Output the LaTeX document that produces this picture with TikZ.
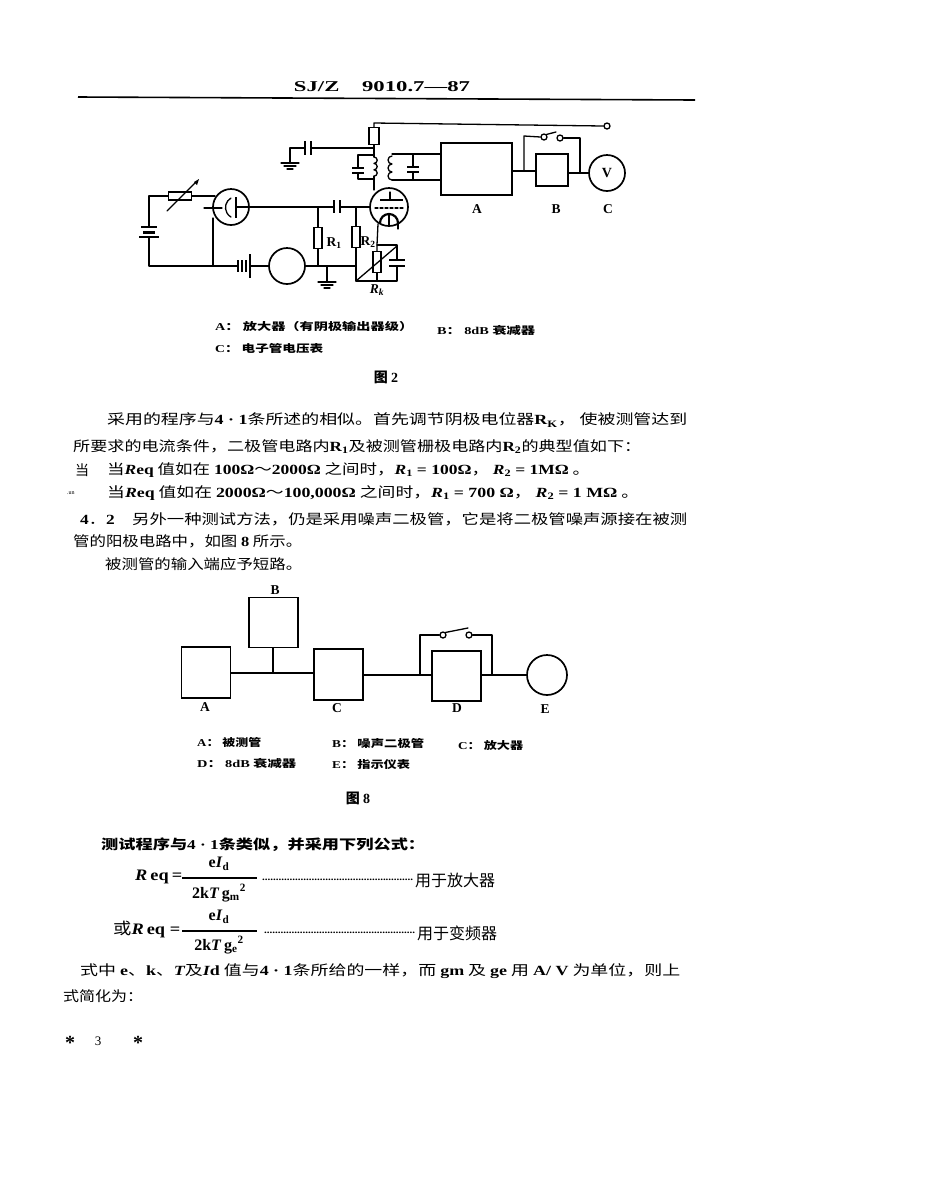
\documentclass[tikz,border=0pt]{standalone}
\usepackage{graphicx}
\usepackage{fontspec}
\setmainfont{Liberation Serif}
\newfontfamily\cjk{Noto Sans CJK SC}
\newfontfamily\latn{Liberation Serif}
\newcommand{\la}[1]{{\latn\bfseries #1}} % latin inside chinese line
\newcommand{\fitw}[2]{\resizebox{#1pt}{\height}{#2}} % line of given width
\newcommand{\groundat}[1]{% ground symbol under a coordinate
  \draw[wire] ($(#1)+(-9,0)$) -- ($(#1)+(9,0)$);
  \draw[wire] ($(#1)+(-6,3)$) -- ($(#1)+(6,3)$);
  \draw[wire] ($(#1)+(-3,6)$) -- ($(#1)+(3,6)$);}
\usetikzlibrary{calc}
\begin{document}
\begin{tikzpicture}[x=1pt,y=-1pt]
\tikzstyle{wire} = [line width=1.3pt, line cap=round, line join=round] % wires
\tikzstyle{plate} = [line width=2.2pt] % capacitor and battery plates
\tikzstyle{box} = [draw, line width=1.7pt, inner sep=0pt] % blocks
\tikzstyle{bigbox} = [draw, line width=1.4pt, inner sep=0pt, minimum width=49pt, minimum height=50pt] % blocks of fig 3
\tikzstyle{res} = [draw, line width=1.5pt, inner sep=0pt, fill=white] % resistors
\tikzstyle{ring} = [draw, circle, line width=1.7pt, inner sep=0pt] % round meters and tubes
\tikzstyle{pin} = [draw, circle, line width=1.3pt, inner sep=0pt, minimum size=6pt, fill=white] % switch contacts
\tikzstyle{letter} = [inner sep=0pt, font=\latn\bfseries\fontsize{13.5}{13.5}\selectfont] % letters of blocks
\tikzstyle{legend} = [anchor=west, inner sep=0pt, font=\cjk\bfseries\fontsize{10.5}{12}\selectfont] % legends
\tikzstyle{bodyline} = [anchor=west, inner sep=0pt, font=\cjk\fontsize{14}{16}\selectfont] % text lines
\tikzstyle{mathline} = [bodyline, font=\latn\bfseries\fontsize{16}{18}\selectfont] % formula parts
\useasboundingbox (0,0) rectangle (950,1195);
\fill[white] (0,0) rectangle (950,1195);
% header
\node[inner sep=0pt, font=\latn\bfseries\fontsize{15}{15}\selectfont] (head) at (382,87) {\fitw{176}{SJ/Z\quad 9010.7—87}};
\coordinate (ruleL) at (78,97);
\coordinate (ruleR) at (695,100);
\draw[line width=1.6pt] (ruleL) -- (ruleR);
% fig 2, left loop
\coordinate (batL) at (149,196);
\coordinate (batLb) at (149,266);
\coordinate (batR) at (237,266);
\coordinate (batRb) at (250,266);
\node[res, minimum width=23pt, minimum height=8pt] (rv) at (180,196) {};
\node[ring, minimum size=36pt] (diode) at (231,207) {};
\coordinate (dk) at (213,218);
\coordinate (dl) at (213,266);
\coordinate (da) at (215,196);
\draw[wire] (149,227) -- (batL) -- (rv.west);
\draw[wire] (rv.east) -- (da);
\draw[wire] (149,237) -- (batLb) -- (dl) -- (batR);
\draw[wire] (dk) -- (dl);
\draw[plate] (141,227) -- (157,227);
\draw[line width=3pt] (143,232) -- (155,232);
\draw[plate] (139,237) -- (159,237);
\draw[wire] (167,211) -- (196,182);
\fill (199,179) -- (194,182) -- (197,185) -- cycle;
\draw[wire] (204,208) -- (222,208);
\draw[wire] (231,198) arc[start angle=240, end angle=120, radius=11];
\draw[line width=2.2pt] (236,197) -- (236,218);
\draw[wire] (236,207) -- (249,207);
% battery and meter
\foreach \xb/\hb in {238/6,242/6,246/6,250/12} \draw[line width=1.5pt] (\xb,266-\hb) -- (\xb,266+\hb);
\node[ring, minimum size=36pt] (mG) at (287,266) {};
\coordinate (jr1b) at (318,266);
\coordinate (jg) at (327,266);
\coordinate (jr2b) at (356,266);
\coordinate (g1) at (327,282);
\draw[wire] (batRb) -- (mG.west);
\draw[wire] (mG.east) -- (jr2b);
\draw[wire] (jg) -- (g1);
\groundat{g1}
% grid line with R1 and R2
\node[res, minimum width=8pt, minimum height=21pt] (r1) at (318,238) {};
\node[res, minimum width=8pt, minimum height=21pt] (r2) at (356,237) {};
\node[letter] (labR1) at (334,243) {R\textsubscript{1}};
\node[letter] (labR2) at (368,242) {R\textsubscript{2}};
\coordinate (jr1) at (318,207);
\coordinate (jr2) at (356,207);
\coordinate (rkL) at (356,281);
\coordinate (rkR) at (397,281);
\node[ring, minimum size=38pt] (tube) at (389,207) {};
\draw[wire] (diode.east) -- (334,207);
\draw[wire] (340,207) -- (tube.west);
\draw[plate] (334,200) -- (334,213);
\draw[plate] (340,200) -- (340,213);
\draw[wire] (jr1) -- (r1.north);
\draw[wire] (r1.south) -- (jr1b);
\draw[wire] (jr2) -- (r2.north);
\draw[wire] (r2.south) -- (rkL);
% tube inside
\draw[line width=2.2pt] (380,200) -- (403,200);
\draw[wire] (390,192) -- (390,200);
\draw[wire, dash pattern=on 3pt off 2pt] (375,208) -- (404,208);
\draw[line width=2.2pt] (380,223) arc[start angle=180, end angle=360, radius=9];
\draw[wire] (398,223) -- (398,229);
\draw[wire] (389,214) -- (389,226);
% cathode with Rk
\node[res, minimum width=8pt, minimum height=21pt] (rk) at (377,262) {};
\coordinate (kt) at (377,245);
\coordinate (ktR) at (397,245);
\node[letter, font=\latn\bfseries\itshape\fontsize{13.5}{13.5}\selectfont] (labRk) at (377,290) {R\textsubscript{k}};
\draw[wire] (378,224) -- (kt) -- (rk.north);
\draw[wire] (kt) -- (ktR) -- (397,260);
\draw[wire] (397,266) -- (rkR) -- (rkL);
\draw[wire] (rk.south) -- (377,281);
\draw[plate] (389,260) -- (405,260);
\draw[plate] (389,266) -- (405,266);
\draw[wire] (rkL) -- (397,246);
% anode side
\node[res, minimum width=10pt, minimum height=17pt] (ra) at (374,136) {};
\coordinate (topL) at (374,123);
\coordinate (jc) at (374,148);
\coordinate (gc) at (290,148);
\coordinate (g2) at (290,163);
\node[pin] (term) at (607,126) {};
\draw[wire] (term.west) -- (topL) -- (ra.north);
\draw[wire] (ra.south) -- (374,157);
\draw[wire] (jc) -- (311,148);
\draw[wire] (305,148) -- (gc) -- (g2);
\draw[plate] (305,141) -- (305,155);
\draw[plate] (311,141) -- (311,155);
\groundat{g2}
% coils
\draw[wire] (374,157) arc[start angle=-90, end angle=90, radius=3.2] arc[start angle=-90, end angle=90, radius=3.2] arc[start angle=-90, end angle=90, radius=3.2];
\draw[wire] (392,156) arc[start angle=-90, end angle=-270, radius=4] arc[start angle=-90, end angle=-270, radius=4] arc[start angle=-90, end angle=-270, radius=4];
\draw[wire] (374,176) -- (374,190);
\draw[wire] (374,155) -- (358,155) -- (358,168);
\draw[wire] (358,173) -- (358,179) -- (374,179);
\draw[plate] (352,168) -- (364,168);
\draw[plate] (352,173) -- (364,173);
% block A, B and V
\node[box, minimum width=71pt, minimum height=52pt] (blkA) at (476.5,169) {};
\node[box, line width=2.2pt, minimum width=32pt, minimum height=32pt] (blkB) at (552,170) {};
\node[ring, minimum size=36pt, font=\latn\bfseries\fontsize{14}{14}\selectfont] (mV) at (607,173) {V};
\coordinate (sA) at (392,154);
\coordinate (sB) at (392,180);
\draw[wire] (sA) -- (blkA.west |- sA);
\draw[wire] (sB) -- (blkA.west |- sB);
\draw[wire] (413,154) -- (413,167);
\draw[wire] (413,172) -- (413,180);
\draw[plate] (407,167) -- (419,167);
\draw[plate] (407,172) -- (419,172);
\coordinate (bpL) at (524,171);
\coordinate (bpR) at (580,173);
\node[pin] (sw1a) at (544,137) {};
\node[pin] (sw1b) at (560,138) {};
\draw[wire] (blkA.east |- bpL) -- (blkB.west |- bpL);
\draw[wire] (blkB.east |- bpR) -- (mV.west);
\draw[wire] (bpL) -- (524,136) -- (sw1a.west);
\draw[wire] (sw1b.east) -- (580,138) -- (bpR);
\draw[wire] (sw1a.north east) -- (556,132);
\node[letter] (labA) at (477,209) {A};
\node[letter] (labB) at (556,209) {B};
\node[letter] (labC) at (608,209) {C};
% legend of fig 2
\node[legend] (leg1) at (215,327) {\fitw{198}{\la{A}： 放大器（有阴极输出器级）}};
\node[legend] (leg2) at (437,330) {\fitw{98}{\la{B}： \la{8dB} 衰减器}};
\node[legend] (leg3) at (215,348) {\fitw{108}{\la{C}： 电子管电压表}};
\node[legend, anchor=center, font=\cjk\bfseries\fontsize{14}{16}\selectfont] (cap2) at (386,377) {图 \la{2}};
% text
\node[bodyline] (line1) at (107,420) {\fitw{580}{采用的程序与\la{4 · 1}条所述的相似。首先调节阴极电位器\la{R\textsubscript{K}}， 使被测管达到}};
\node[bodyline] (line2) at (73,447) {\fitw{568}{所要求的电流条件，二极管电路内\la{R\textsubscript{1}}及被测管栅极电路内\la{R\textsubscript{2}}的典型值如下：}};
\node[bodyline] (line3a) at (75,470) {当};
\node[bodyline] (line3) at (107,470) {\fitw{483}{当\la{\itshape R}\la{eq} 值如在 \la{100Ω}～\la{2000Ω} 之间时，\la{\itshape R\textsubscript{\upshape 1}} \la{= 100Ω}， \la{\itshape R\textsubscript{\upshape 2}} \la{= 1MΩ} 。}};
\node[bodyline, font=\latn\fontsize{6}{6}\selectfont] (line4a) at (67,493) {.un};
\node[bodyline] (line4) at (107,493) {\fitw{532}{当\la{\itshape R}\la{eq} 值如在 \la{2000Ω}～\la{100,000Ω} 之间时，\la{\itshape R\textsubscript{\upshape 1}} \la{= 700 Ω}， \la{\itshape R\textsubscript{\upshape 2}} \la{= 1 MΩ} 。}};
\node[bodyline] (line5) at (80,519) {\fitw{607}{\la{4}．\la{2}\quad 另外一种测试方法，仍是采用噪声二极管，它是将二极管噪声源接在被测}};
\node[bodyline] (line6) at (73,541) {\fitw{229}{管的阳极电路中，如图 \la{8} 所示。}};
\node[bodyline] (line7) at (105,564) {\fitw{197}{被测管的输入端应予短路。}};
% fig 8
\node[bigbox, minimum height=51pt] (a) at (206,672.5) {};
\node[bigbox] (b) at (273.5,622.5) {};
\node[bigbox, minimum height=51pt] (c) at (338.5,674.5) {};
\node[bigbox] (d) at (456.5,676) {};
\node[ring, minimum size=40pt] (e) at (547,675) {};
\coordinate (jb) at (273,673);
\coordinate (bp1) at (420,675);
\coordinate (bp2) at (492,675);
\node[pin] (sw2a) at (443,635) {};
\node[pin] (sw2b) at (469,635) {};
\draw[wire] (a.east |- jb) -- (c.west |- jb);
\draw[wire] (b.south -| jb) -- (jb);
\draw[wire] (c.east |- bp1) -- (d.west |- bp1);
\draw[wire] (d.east |- bp2) -- (e.west);
\draw[wire] (bp1) -- (420,635) -- (sw2a.west);
\draw[wire] (sw2b.east) -- (492,635) -- (bp2);
\draw[wire] (sw2a.north east) -- (468,628);
\node[letter] (lab8A) at (205,707) {A};
\node[letter] (lab8B) at (275,590) {B};
\node[letter] (lab8C) at (337,708) {C};
\node[letter] (lab8D) at (457,708) {D};
\node[letter] (lab8E) at (545,709) {E};
\node[legend] (leg4) at (197,742) {\fitw{64}{\la{A}： 被测管}};
\node[legend] (leg5) at (332,743) {\fitw{92}{\la{B}： 噪声二极管}};
\node[legend] (leg6) at (458,745) {\fitw{65}{\la{C}： 放大器}};
\node[legend] (leg7) at (197,763) {\fitw{99}{\la{D}： \la{8dB} 衰减器}};
\node[legend] (leg8) at (332,765) {\fitw{78}{\la{E}： 指示仪表}};
\node[legend, anchor=center, font=\cjk\bfseries\fontsize{14}{16}\selectfont] (cap8) at (358,798) {图 \la{8}};
% formulas
\node[bodyline, font=\cjk\bfseries\fontsize{13.5}{16}\selectfont] (line8) at (101,845) {\fitw{324}{测试程序与\la{4 · 1}条类似，并采用下列公式：}};
\node[mathline] (f1) at (135,877) {\fitw{47}{\itshape R\upshape\,eq\,=}};
\coordinate (f1a) at (182,878);
\coordinate (f1b) at (257,878);
\draw[line width=1.4pt] (f1a) -- (f1b);
\node[mathline, anchor=center] (f1n) at (219,864) {e\textit{I}\textsubscript{d}};
\node[mathline, anchor=center] (f1d) at (219,893) {2k\textit{T}\,g\textsubscript{m}\textsuperscript{2}};
\node[bodyline, font=\latn\bfseries\fontsize{10}{12}\selectfont] (f1x) at (262,880) {\fitw{151}{.......................................................}};
\node[bodyline, font=\cjk\fontsize{16}{18}\selectfont] (f1t) at (415,880) {用于放大器};
\node[bodyline, font=\cjk\fontsize{16}{18}\selectfont] (f2) at (113,929) {\fitw{67}{或\la{\itshape R}\la{\,eq =}}};
\coordinate (f2a) at (182,931);
\coordinate (f2b) at (257,931);
\draw[line width=1.4pt] (f2a) -- (f2b);
\node[mathline, anchor=center] (f2n) at (219,917) {e\textit{I}\textsubscript{d}};
\node[mathline, anchor=center] (f2d) at (219,945) {2k\textit{T}\,g\textsubscript{e}\textsuperscript{2}};
\node[bodyline, font=\latn\bfseries\fontsize{10}{12}\selectfont] (f2x) at (264,933) {\fitw{151}{.......................................................}};
\node[bodyline, font=\cjk\fontsize{16}{18}\selectfont] (f2t) at (417,933) {用于变频器};
\node[bodyline] (line9) at (80,971) {\fitw{600}{式中 \la{e}、\la{k}、\la{\itshape T}及\la{\itshape I}\la{d} 值与\la{4 · 1}条所给的一样，而 \la{gm} 及 \la{ge} 用 \la{A/ V} 为单位，则上}};
\node[bodyline] (line10) at (63,996) {\fitw{80}{式简化为：}};
% page number
\node[letter, font=\latn\bfseries\fontsize{20}{20}\selectfont] (star1) at (70,1043) {*};
\node[letter, font=\latn\fontsize{13}{13}\selectfont] (pageno) at (98,1041) {3};
\node[letter, font=\latn\bfseries\fontsize{20}{20}\selectfont] (star2) at (138,1043) {*};
\end{tikzpicture}
\end{document}
